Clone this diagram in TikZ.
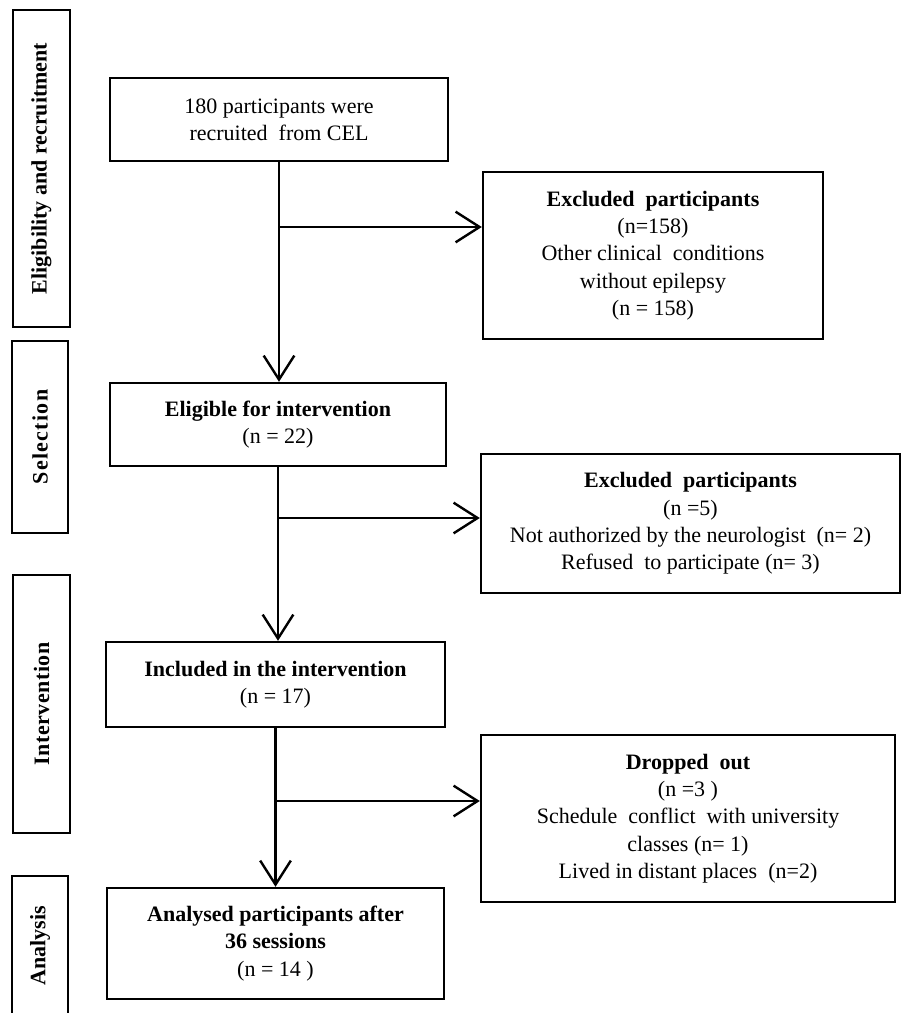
\documentclass[tikz,border=0pt]{standalone}
\usepackage{fontspec}
\setmainfont{Liberation Serif}
\usepackage{tikz}
\usetikzlibrary{arrows.meta}

\tikzset{
  stagebox/.style={draw, line width=1.8pt, rotate=90, inner sep=0pt, font=\fontsize{16.5}{18}\selectfont\bfseries},
  flowbox/.style={draw, line width=1.8pt, align=center, inner sep=0pt, font=\fontsize{16.5}{20.5}\selectfont},
  flowline/.style={line width=1.8pt},
  flowarrow/.style={line width=1.8pt, -{Straight Barb[length=18pt,width=23pt,line width=1.8pt]}}
}

\begin{document}
\begin{tikzpicture}[x=0.75pt,y=0.75pt,yscale=-1,xscale=1]
\useasboundingbox (0,0) rectangle (901,1013);

%Shape: Rectangle [stage labels]
\node[stagebox, minimum width=317*0.75pt, minimum height=57*0.75pt] (elig) at (41.5,168.5) {Eligibility and recruitment};
\node[stagebox, minimum width=192*0.75pt, minimum height=56*0.75pt] (sel) at (40,437) {S\kern1pt e\kern1pt l\kern1pt e\kern1pt c\kern1pt t\kern1pt i\kern1pt o\kern1pt n};
\node[stagebox, minimum width=258*0.75pt, minimum height=57*0.75pt] (interv) at (41.5,704) {I\kern0.4pt n\kern0.4pt t\kern0.4pt e\kern0.4pt r\kern0.4pt v\kern0.4pt e\kern0.4pt n\kern0.4pt t\kern0.4pt i\kern0.4pt o\kern0.4pt n};
\node[stagebox, minimum width=140*0.75pt, minimum height=56*0.75pt] (anal) at (40,946) {Analysis};

%Shape: Rectangle [main flow]
\node[flowbox, minimum width=338*0.75pt, minimum height=83*0.75pt] (recr) at (279,119.5) {180 participants were\\recruited\ \ from CEL};
\node[flowbox, minimum width=336*0.75pt, minimum height=83*0.75pt] (eligible) at (278,424.5) {\textbf{Eligible for intervention}\\(n = 22)};
\node[flowbox, minimum width=339*0.75pt, minimum height=85*0.75pt] (incl) at (275.5,684.5) {\textbf{Included in the intervention}\\(n = 17)};
\node[flowbox, minimum width=337*0.75pt, minimum height=111*0.75pt] (analysed) at (275.5,943.5) {\textbf{Analysed participants after}\\\textbf{36 sessions}\\(n = 14 )};

%Shape: Rectangle [side boxes]
\node[flowbox, minimum width=340*0.75pt, minimum height=167*0.75pt] (excl1) at (653,255.5) {\textbf{Excluded\ \ participants}\\(n=158)\\Other clinical\ \ conditions\\without epilepsy\\(n = 158)};
\node[flowbox, minimum width=419*0.75pt, minimum height=139*0.75pt] (excl2) at (690.5,523.5) {\textbf{Excluded\ \ participants}\\(n =5)\\Not authorized by the neurologist\ \ (n= 2)\\Refused\ \ to participate (n= 3)};
\node[flowbox, minimum width=414*0.75pt, minimum height=167*0.75pt] (drop) at (688,818.5) {\textbf{Dropped\ \ out}\\(n =3 )\\Schedule\ \ conflict\ \ with university\\classes (n= 1)\\Lived in distant places\ \ (n=2)};

%Straight Lines [branch points]
\coordinate (b1) at (280,227);
\coordinate (b2) at (277,518);
\coordinate (b3) at (275,801);

%Straight Lines
\draw[flowarrow] (recr.south) -- (recr.south |- eligible.north);
\draw[flowarrow] (b1) -- (b1 -| excl1.west);
\draw[flowarrow] (eligible.south) -- (eligible.south |- incl.north);
\draw[flowarrow] (b2) -- (b2 -| excl2.west);
\draw[flowarrow] (incl.south) -- (incl.south |- analysed.north);
\draw[flowarrow] (b3) -- (b3 -| drop.west);

\end{tikzpicture}
\end{document}
